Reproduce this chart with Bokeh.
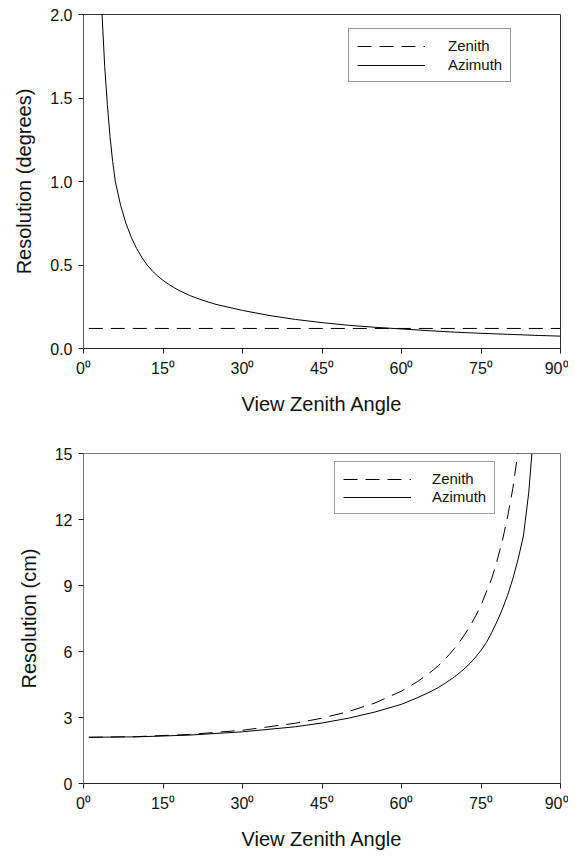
from bokeh.plotting import figure
from bokeh.layouts import column
from bokeh.models import Range1d, FixedTicker, Legend, LegendItem, Label
from bokeh.embed import file_html
from bokeh.resources import INLINE

# ---------------- data ----------------
# (a) angular resolution (degrees) vs view zenith angle
angle_a_az = [3.5, 4.0, 4.5, 5.0, 5.5, 6.0, 7.0, 8.0, 9.0, 10.0, 11.0, 12.0, 13.0, 14.0, 15.0, 16.0, 17.0,
              18.0, 20.0, 22.0, 25.0, 30.0, 35.0, 40.0, 45.0, 50.0, 55.0, 60.0, 65.0, 70.0, 75.0, 80.0, 85.0, 90.0]
azimuth_a = [2.0, 1.69, 1.46, 1.27, 1.12, 1.0, 0.857, 0.75, 0.667, 0.6, 0.546, 0.5, 0.464, 0.434, 0.408,
             0.386, 0.366, 0.348, 0.318, 0.294, 0.264, 0.228, 0.198, 0.174, 0.155, 0.139, 0.127, 0.117,
             0.107, 0.098, 0.091, 0.085, 0.079, 0.074]
angle_a_zen = [1.0, 90.0]
zenith_a = [0.12, 0.12]

# (b) spatial resolution (cm) vs view zenith angle
angle_b_zen = [1, 10, 20, 30, 40, 45, 50, 55, 60, 63, 65, 66, 67, 68, 69, 70, 71, 72, 73, 74, 75, 76, 77,
               78, 79, 80, 81, 82]
zenith_b = [2.1, 2.13, 2.23, 2.42, 2.74, 2.97, 3.27, 3.66, 4.2, 4.63, 4.97, 5.16, 5.37, 5.6, 5.86, 6.14,
            6.45, 6.8, 7.18, 7.62, 8.1, 8.7, 9.3, 10.1, 11.0, 12.1, 13.4, 15.1]
angle_b_az = [1, 10, 20, 30, 40, 45, 50, 55, 60, 63, 65, 66, 67, 68, 69, 70, 71, 72, 73, 74, 75, 76, 77,
              78, 79, 80, 81, 82, 83, 84, 84.6]
azimuth_b = [2.1, 2.12, 2.2, 2.35, 2.58, 2.75, 2.97, 3.25, 3.6, 3.9, 4.12, 4.24, 4.37, 4.52, 4.68, 4.85,
             5.04, 5.25, 5.48, 5.75, 6.05, 6.4, 6.85, 7.35, 7.9, 8.55, 9.3, 10.2, 11.25, 13.2, 15.0]

x_ticks = [0, 15, 30, 45, 60, 75, 90]
x_tick_labels = ["0\u2070", "15\u2070", "30\u2070", "45\u2070", "60\u2070", "75\u2070", "90\u2070"]
y_ticks_a = [0.0, 0.5, 1.0, 1.5, 2.0]
y_ticks_b = [0, 3, 6, 9, 12, 15]

FONT = "Liberation Sans"
DASH = "14 8"


def style(p, yticks, ylabel, yfmt, frame_color, left_color):
    p.xaxis.ticker = FixedTicker(ticks=x_ticks)
    p.xaxis.major_label_overrides = {t: l for t, l in zip(x_ticks, x_tick_labels)}
    p.yaxis.ticker = FixedTicker(ticks=yticks)
    p.yaxis.major_label_overrides = {t: yfmt(t) for t in yticks}
    for ax in (p.xaxis[0], p.yaxis[0]):
        ax.major_tick_in = 0
        ax.major_tick_out = 5
        ax.minor_tick_line_color = None
        ax.major_label_text_font = FONT
        ax.major_label_text_font_size = "16px"
        ax.major_label_text_color = "#111111"
        ax.axis_label_text_font = FONT
        ax.axis_label_text_font_size = "20px"
        ax.axis_label_text_font_style = "normal"
        ax.axis_label_text_color = "#111111"
        ax.axis_line_color = "#222222"
        ax.major_tick_line_color = "#222222"
    p.yaxis.axis_line_color = left_color
    p.xaxis.axis_label = "View Zenith Angle"
    p.yaxis.axis_label = ylabel
    p.xaxis.major_label_standoff = 6
    p.yaxis.major_label_standoff = 6
    p.xaxis.axis_label_standoff = 13
    p.yaxis.axis_label_standoff = 12
    p.xgrid.visible = False
    p.ygrid.visible = False
    p.outline_line_color = frame_color
    p.outline_line_width = 1
    p.background_fill_color = "white"
    p.border_fill_color = "white"


# ---------------- (a) ----------------
pa = figure(width=568, height=420, output_backend="svg", toolbar_location=None,
            x_range=Range1d(0, 90), y_range=Range1d(0, 2.0),
            min_border_left=83, min_border_right=8, min_border_top=14, min_border_bottom=72)
style(pa, y_ticks_a, "Resolution (degrees)", lambda t: f"{t:.1f}", "#333333", "#555555")
ra_zen = pa.line(angle_a_zen, zenith_a, line_color="black", line_width=1, line_dash=DASH)
ra_az = pa.line(angle_a_az, azimuth_a, line_color="black", line_width=1)
leg_a = Legend(items=[LegendItem(label="Zenith", renderers=[ra_zen]),
                      LegendItem(label="Azimuth", renderers=[ra_az])],
               location=(265, 266), orientation="vertical",
               padding=8, spacing=2, margin=0,
               glyph_width=68, glyph_height=16, label_height=16, label_standoff=23,
               label_text_font=FONT, label_text_font_size="15px", label_text_color="#111111",
               border_line_color="#333333", border_line_width=1,
               background_fill_color="white", background_fill_alpha=1.0)
pa.add_layout(leg_a)
pa.add_layout(Label(x=-75, y=-52, x_units="screen", y_units="screen", text="(a)",
                    text_font=FONT, text_font_size="20px", text_color="#111111",
                    text_baseline="middle"))

# ---------------- (b) ----------------
pb = figure(width=568, height=432, output_backend="svg", toolbar_location=None,
            x_range=Range1d(0, 90), y_range=Range1d(0, 15),
            min_border_left=83, min_border_right=8, min_border_top=33, min_border_bottom=64)
style(pb, y_ticks_b, "Resolution (cm)", lambda t: f"{t:d}", "#777777", "#777777")
rb_zen = pb.line(angle_b_zen, zenith_b, line_color="black", line_width=1, line_dash=DASH)
rb_az = pb.line(angle_b_az, azimuth_b, line_color="black", line_width=1)
leg_b = Legend(items=[LegendItem(label="Zenith", renderers=[rb_zen]),
                      LegendItem(label="Azimuth", renderers=[rb_az])],
               location=(251, 269), orientation="vertical",
               padding=8, spacing=1, margin=0,
               glyph_width=68, glyph_height=16, label_height=16, label_standoff=21,
               label_text_font=FONT, label_text_font_size="15px", label_text_color="#111111",
               border_line_color="#444444", border_line_width=1,
               background_fill_color="white", background_fill_alpha=1.0)
pb.add_layout(leg_b)
pb.add_layout(Label(x=-75, y=-47, x_units="screen", y_units="screen", text="(b)",
                    text_font=FONT, text_font_size="20px", text_color="#111111",
                    text_baseline="middle"))

layout = column(pa, pb, spacing=0)
open("out.html", "w").write(file_html(layout, INLINE))
